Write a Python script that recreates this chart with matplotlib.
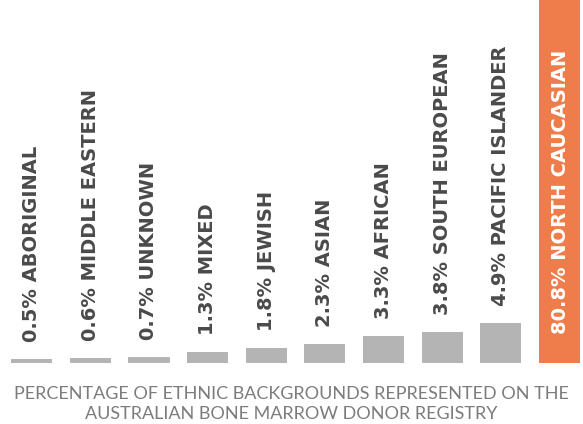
import matplotlib
matplotlib.use("Agg")
import matplotlib.pyplot as plt
import numpy as np

# data
groups = ["ABORIGINAL", "MIDDLE EASTERN", "UNKNOWN", "MIXED", "JEWISH",
          "ASIAN", "AFRICAN", "SOUTH EUROPEAN", "PACIFIC ISLANDER", "NORTH CAUCASIAN"]
percent = [0.5, 0.6, 0.7, 1.3, 1.8, 2.3, 3.3, 3.8, 4.9, 80.8]
caption = ("PERCENTAGE OF ETHNIC BACKGROUNDS REPRESENTED ON THE\n"
           "AUSTRALIAN BONE MARROW DONOR REGISTRY")

gray = "#b4b4b4"
orange = "#ef7d4b"
label_color = "#4a4a4a"

fig = plt.figure(figsize=(5.83, 4.24), dpi=100)
ax = fig.add_axes([0, 61 / 424, 1, 363 / 424])

x = np.arange(len(percent))
colors = [gray] * (len(percent) - 1) + [orange]
ax.bar(x, percent, width=0.70, color=colors, linewidth=0)

ax.set_xlim(-0.54, 9.40)
ax.set_ylim(0, 363 / 8.15)
ax.axis("off")

for i, (g, p) in enumerate(zip(groups, percent)):
    txt = f"{p}% {g}"
    if i == len(percent) - 1:
        ax.text(i + 0.02, 3.6, txt, rotation=90, ha="center", va="bottom",
                color="white", fontsize=14, fontweight="bold", family="DejaVu Sans")
    else:
        ax.text(i, p + 2.1, txt, rotation=90, ha="center", va="bottom",
                color=label_color, fontsize=14, fontweight="bold", family="DejaVu Sans")

fig.text(0.5, 1 - 404 / 424, caption, ha="center", va="center",
         fontsize=13, color="#7c7c7c", family="Lato", fontweight="normal",
         linespacing=1.25)

fig.savefig("out.png", dpi=100, facecolor="white")
